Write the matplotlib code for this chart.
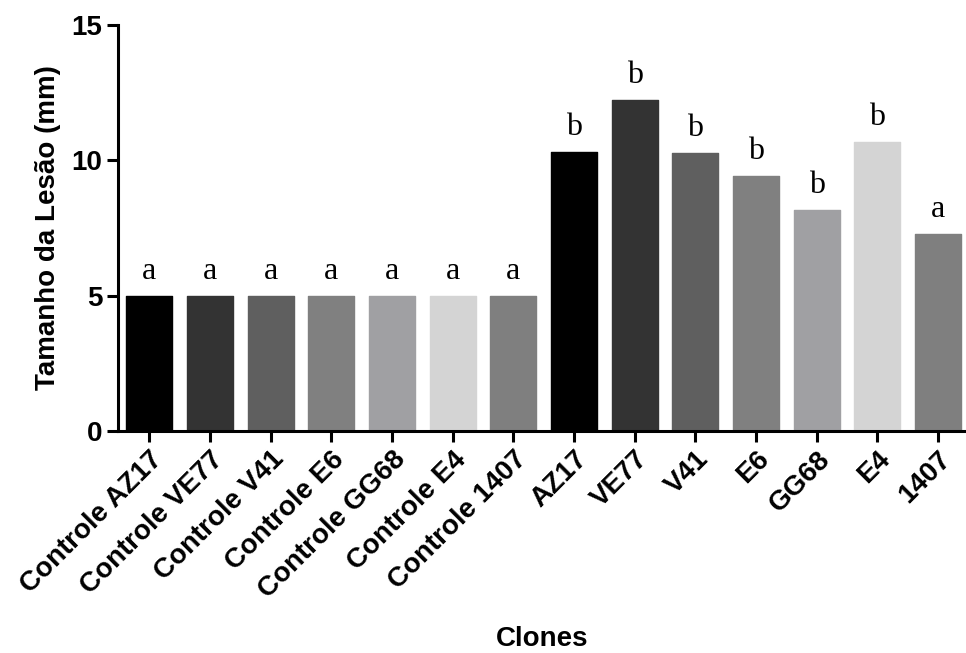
import matplotlib.pyplot as plt

clones = ['Controle AZ17', 'Controle VE77', 'Controle V41', 'Controle E6',
          'Controle GG68', 'Controle E4', 'Controle 1407',
          'AZ17', 'VE77', 'V41', 'E6', 'GG68', 'E4', '1407']
lesao = [5.0, 5.0, 5.0, 5.0, 5.0, 5.0, 5.0,
         10.3, 12.23, 10.27, 9.42, 8.16, 10.68, 7.28]
letras = ['a', 'a', 'a', 'a', 'a', 'a', 'a',
          'b', 'b', 'b', 'b', 'b', 'b', 'a']
colors = ['#000000', '#333333', '#5f5f5f', '#808080', '#a0a0a3', '#d4d4d4', '#7f7f7f'] * 2

plt.rcParams['font.family'] = ['Liberation Sans', 'DejaVu Sans']

fig = plt.figure(figsize=(9.66, 6.53), dpi=100)
ax = fig.add_axes([0.122, 0.34, 0.878, 0.622])

x = range(len(clones))
bars = ax.bar(x, lesao, width=0.76, color=colors, edgecolor=colors,
              linewidth=1, joinstyle='round')

for xi, v, l in zip(x, lesao, letras):
    ax.annotate(l, (xi, v), xytext=(0, 7), textcoords='offset points',
                ha='center', va='bottom', fontsize=23, family='Liberation Serif')

ax.set_xlim(-0.52, 13.46)
ax.set_ylim(0, 15)
ax.set_yticks([0, 5, 10, 15])
ax.set_xticks(list(x))
ax.set_xticklabels(clones, rotation=45, ha='right', rotation_mode='anchor',
                   fontsize=20, fontweight='bold')
for t in ax.get_yticklabels():
    t.set_fontsize(20)
    t.set_fontweight('bold')

for s in ['top', 'right']:
    ax.spines[s].set_visible(False)
for s in ['left', 'bottom']:
    ax.spines[s].set_linewidth(2.2)
ax.tick_params(direction='out', length=8, width=2.2, pad=3)

ax.set_ylabel('Tamanho da Lesão (mm)', fontsize=20, fontweight='bold', labelpad=8)
ax.set_xlabel('Clones', fontsize=20, fontweight='bold', labelpad=16)

fig.savefig('out.png', dpi=100)
